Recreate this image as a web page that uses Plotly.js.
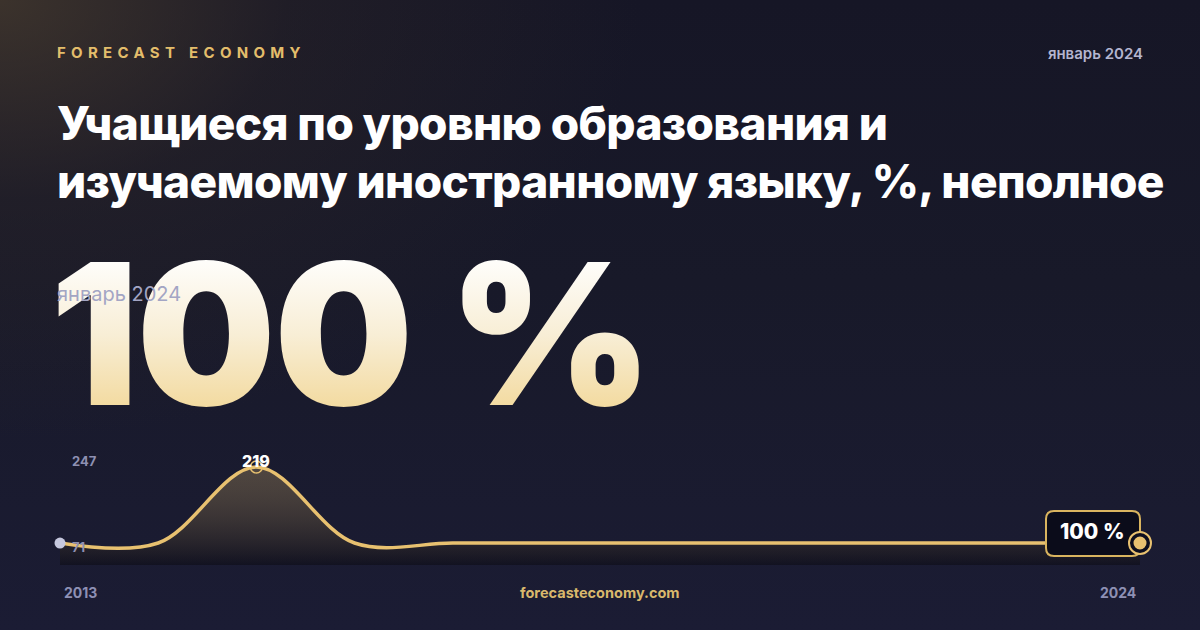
<!DOCTYPE html>
<html lang="ru">
<head>
<meta charset="utf-8">
<script src="https://cdn.plot.ly/plotly-3.0.1.min.js"></script>
<style>
  html, body { margin:0; padding:0; }
  body {
    width:1200px; height:630px; overflow:hidden; position:relative;
    font-family: Inter, "Noto Sans", sans-serif;
    background:
      radial-gradient(ellipse 640px 440px at 0% 0%, rgba(72,60,46,0.75) 0%, rgba(50,42,40,0.35) 45%, rgba(0,0,0,0) 100%),
      linear-gradient(180deg, #161626 0%, #181929 45%, #1b1c34 100%);
  }
  .abs { position:absolute; white-space:nowrap; }
  #brand { left:57px; top:43px; font-size:15px; font-weight:700; letter-spacing:5.3px; color:#e3bd6b; }
  #date  { right:57px; top:44px; font-size:15px; font-weight:600; color:#b4b5cf; }
  #title { left:57px; top:94px; font-size:46px; line-height:58px; font-weight:800; color:#ffffff; letter-spacing:-0.65px; }
  #big {
    left:50px; top:236px; font-size:196px; line-height:196px; font-weight:900; letter-spacing:-2px;
    background: linear-gradient(180deg, #ffffff 8%, #f8eed6 50%, #f1d48e 100%);
    -webkit-background-clip:text; background-clip:text; color:transparent;
  }
  #sub { left:57px; top:282px; font-size:20px; font-weight:400; color:#a3a5c4; }
  #chart { position:absolute; left:0; top:0; width:1200px; height:630px; }
</style>
</head>
<body>
<div id="brand" class="abs"></div>
<div id="date" class="abs"></div>
<div id="title" class="abs"></div>
<div id="big" class="abs"></div>
<div id="sub" class="abs"></div>
<div id="chart"></div>
<script>
// ---- data ----
const brandText = 'FORECAST ECONOMY';
const periodLabel = 'январь 2024';
const titleLines = ['Учащиеся по уровню образования и', 'изучаемому иностранному языку, %, неполное'];
const unit = '%';
const years = [2013, 2014, 2015, 2016, 2017, 2018, 2019, 2020, 2021, 2022, 2023, 2024];
const values = [100, 100, 219, 100, 100, 100, 100, 100, 100, 100, 100, 100];
const yTickLabels = ['247', '71'];
const siteLabel = 'forecasteconomy.com';

// ---- header text ----
const last = values[values.length - 1];
const lastYear = years[years.length - 1];
document.getElementById('brand').textContent = brandText;
document.getElementById('date').textContent = periodLabel;
document.getElementById('title').innerHTML = titleLines.join('<br>');
document.getElementById('big').textContent = last + ' ' + unit;
document.getElementById('sub').textContent = periodLabel;

// ---- chart ----
const maxVal = Math.max(...values);
const iMax = values.indexOf(maxVal);
const yRange = [65.6, 253.4];
// plot area 60..1170 px; last year sits at 1140 px, leaving room for the end marker
const xRange = [years[0], lastYear + (lastYear - years[0]) * 30 / 1080];
const gold = '#e8c170';

const traces = [
  {
    x: years, y: values, type: 'scatter', mode: 'lines',
    line: { shape: 'spline', smoothing: 1, color: gold, width: 3.5 },
    fill: 'tozeroy',
    fillgradient: {
      type: 'vertical', start: yRange[0], stop: maxVal,
      colorscale: [[0, 'rgba(8,7,12,0.45)'], [1, 'rgba(232,193,112,0.26)']]
    },
    hoverinfo: 'skip'
  },
  {
    x: [years[0]], y: [values[0]], type: 'scatter', mode: 'markers',
    marker: { size: 11, color: '#c6c8de' }, cliponaxis: false, hoverinfo: 'skip'
  },
  {
    x: [years[iMax]], y: [maxVal], type: 'scatter', mode: 'markers',
    marker: { symbol: 'circle-open', size: 12, color: gold, line: { width: 1.5 } },
    cliponaxis: false, hoverinfo: 'skip'
  }
];

const greyFont = { family: 'Inter', size: 13, color: '#8e90b2', weight: 700 };
const annotations = [
  { xref: 'x', yref: 'paper', x: years[0], y: 0.867, xshift: 10, xanchor: 'left', yanchor: 'middle',
    text: yTickLabels[0], showarrow: false, font: greyFont },
  { xref: 'x', yref: 'paper', x: years[0], y: 0.15, xshift: 10, xanchor: 'left', yanchor: 'middle',
    text: yTickLabels[1], showarrow: false, font: greyFont },
  { xref: 'x', yref: 'y', x: years[iMax], y: maxVal, yshift: 6, xanchor: 'center', yanchor: 'middle',
    text: String(maxVal), showarrow: false, font: { family: 'Inter', size: 16, color: '#ffffff', weight: 800 } },
  { xref: 'x', yref: 'y', x: lastYear, y: last, xshift: -48, yshift: 12, xanchor: 'center', yanchor: 'middle',
    text: last + ' ' + unit, showarrow: false, font: { family: 'Inter', size: 21, color: '#ffffff', weight: 800 } },
  { xref: 'x', yref: 'paper', x: years[0], y: -0.225, xshift: 2, xanchor: 'left', yanchor: 'middle',
    text: String(years[0]), showarrow: false, font: { family: 'Inter', size: 14, color: '#8e90b4', weight: 700 } },
  { xref: 'x', yref: 'paper', x: lastYear, y: -0.225, xshift: -2, xanchor: 'right', yanchor: 'middle',
    text: String(lastYear), showarrow: false, font: { family: 'Inter', size: 14, color: '#8e90b4', weight: 700 } },
  { xref: 'x', yref: 'paper', x: (years[0] + lastYear) / 2, y: -0.225, xanchor: 'center', yanchor: 'middle',
    text: siteLabel, showarrow: false, font: { family: 'Inter', size: 14.5, color: '#d9b86c', weight: 700 } }
];

const shapes = [
  { type: 'path', layer: 'above', xref: 'x', yref: 'y', xsizemode: 'pixel', ysizemode: 'pixel',
    xanchor: lastYear, yanchor: last,
    path: 'M -86,32 L -8,32 Q 0,32 0,24 L 0,-5 Q 0,-13 -8,-13 L -86,-13 Q -94,-13 -94,-5 L -94,24 Q -94,32 -86,32 Z',
    fillcolor: '#0b0c1a', line: { color: '#d9b45f', width: 2 } },
  { type: 'circle', layer: 'above', xref: 'x', yref: 'y', xsizemode: 'pixel', ysizemode: 'pixel',
    xanchor: lastYear, yanchor: last, x0: -11, x1: 11, y0: -11, y1: 11,
    fillcolor: '#0d0e1e', line: { color: gold, width: 2 } },
  { type: 'circle', layer: 'above', xref: 'x', yref: 'y', xsizemode: 'pixel', ysizemode: 'pixel',
    xanchor: lastYear, yanchor: last, x0: -6.5, x1: 6.5, y0: -6.5, y1: 6.5,
    fillcolor: gold, line: { width: 0 } }
];

const layout = {
  width: 1200, height: 630,
  margin: { l: 60, r: 30, t: 445, b: 65, pad: 0 },
  paper_bgcolor: 'rgba(0,0,0,0)', plot_bgcolor: 'rgba(0,0,0,0)',
  showlegend: false,
  xaxis: { range: xRange, visible: false, fixedrange: true },
  yaxis: { range: yRange, visible: false, fixedrange: true },
  annotations: annotations,
  shapes: shapes,
  font: { family: 'Inter' }
};

Plotly.newPlot('chart', traces, layout, { staticPlot: true, displayModeBar: false });
</script>
</body>
</html>
